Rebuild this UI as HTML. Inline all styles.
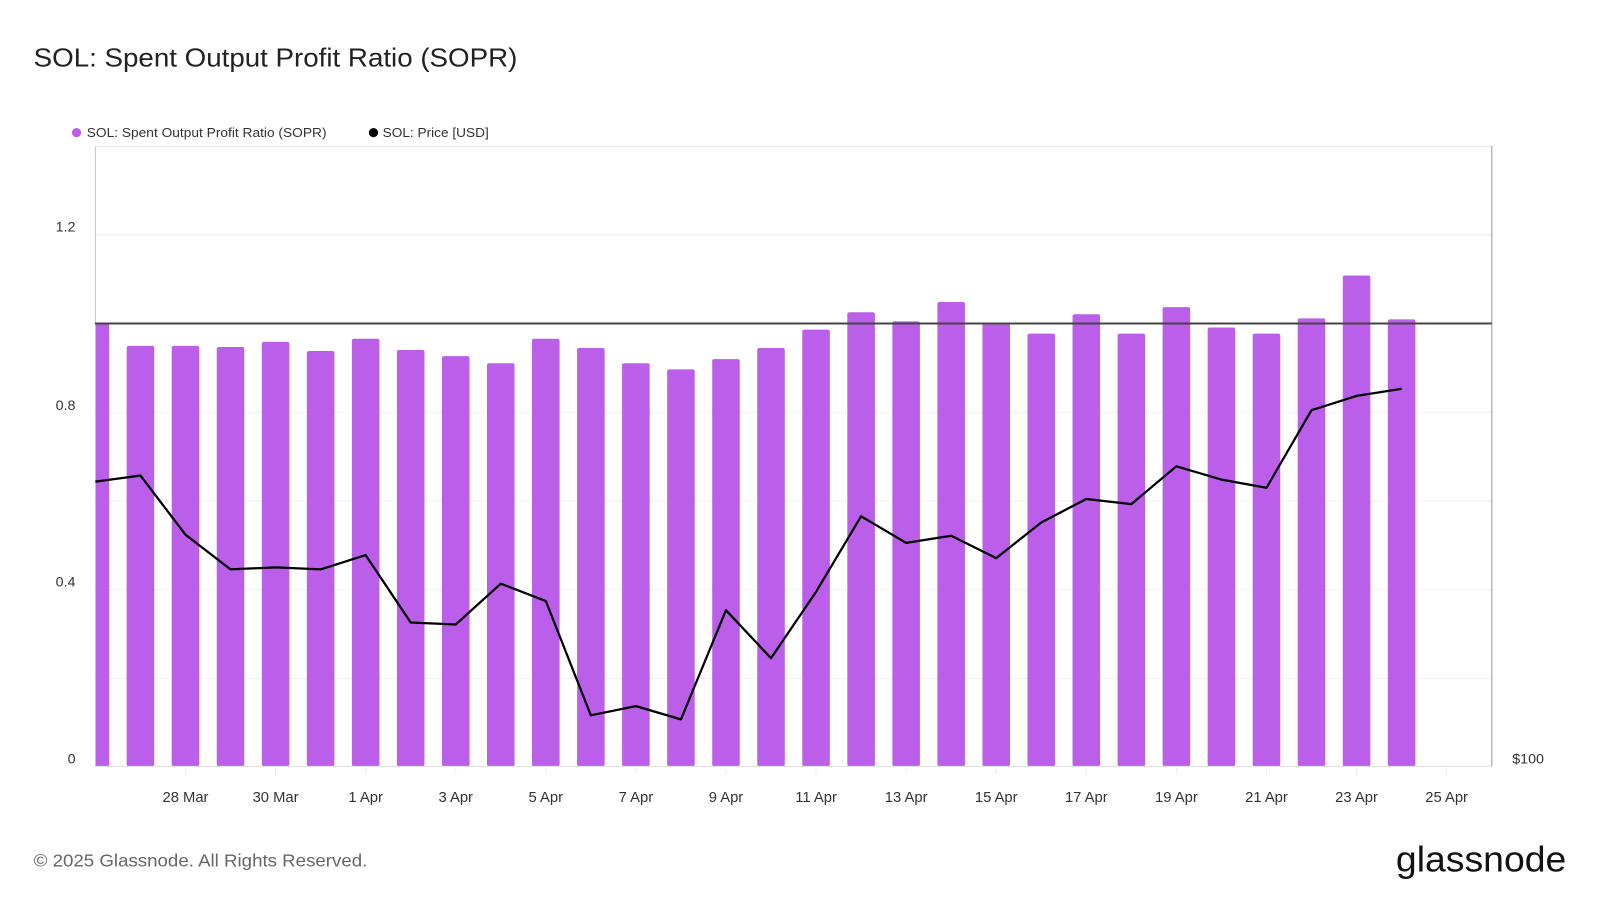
<!DOCTYPE html>
<html><head><meta charset="utf-8"><style>
html,body{margin:0;padding:0;background:#fff;}
svg{display:block;font-family:"Liberation Sans",sans-serif;}
</style></head><body>
<svg width="1600" height="900" viewBox="0 0 1568 882" xmlns="http://www.w3.org/2000/svg">
<rect width="1568" height="882" fill="#fff"/>
<text x="33" y="65" font-size="25" fill="#222" textLength="474" lengthAdjust="spacingAndGlyphs">SOL: Spent Output Profit Ratio (SOPR)</text>
<circle cx="75" cy="130" r="4.5" fill="#bb5fea"/>
<text x="85" y="134.5" font-size="12.5" fill="#333" textLength="235" lengthAdjust="spacingAndGlyphs">SOL: Spent Output Profit Ratio (SOPR)</text>
<circle cx="366" cy="130" r="4.5" fill="#000"/>
<text x="375" y="134.5" font-size="12.5" fill="#333" textLength="104" lengthAdjust="spacingAndGlyphs">SOL: Price [USD]</text>
<g stroke="#f2f2f2" stroke-width="1">
<line x1="93" x2="1462" y1="143.5" y2="143.5" stroke="#e8e8e8"/>
<line x1="93" x2="1462" y1="230" y2="230"/>
<line x1="93" x2="1462" y1="404" y2="404"/>
<line x1="93" x2="1462" y1="491" y2="491"/>
<line x1="93" x2="1462" y1="578" y2="578"/>
<line x1="93" x2="1462" y1="665" y2="665"/>
</g>
<g fill="#bb5fea">
<rect x="93.5" y="318" width="13.5" height="433"/>
<rect x="124.14" y="339" width="27" height="412" rx="2"/>
<rect x="168.28" y="339" width="27" height="412" rx="2"/>
<rect x="212.42" y="340" width="27" height="411" rx="2"/>
<rect x="256.56" y="335" width="27" height="416" rx="2"/>
<rect x="300.7" y="344" width="27" height="407" rx="2"/>
<rect x="344.84" y="332" width="27" height="419" rx="2"/>
<rect x="388.98" y="343" width="27" height="408" rx="2"/>
<rect x="433.12" y="349" width="27" height="402" rx="2"/>
<rect x="477.26" y="356" width="27" height="395" rx="2"/>
<rect x="521.4" y="332" width="27" height="419" rx="2"/>
<rect x="565.54" y="341" width="27" height="410" rx="2"/>
<rect x="609.68" y="356" width="27" height="395" rx="2"/>
<rect x="653.82" y="362" width="27" height="389" rx="2"/>
<rect x="697.96" y="352" width="27" height="399" rx="2"/>
<rect x="742.1" y="341" width="27" height="410" rx="2"/>
<rect x="786.24" y="323" width="27" height="428" rx="2"/>
<rect x="830.38" y="306" width="27" height="445" rx="2"/>
<rect x="874.52" y="315" width="27" height="436" rx="2"/>
<rect x="918.66" y="296" width="27" height="455" rx="2"/>
<rect x="962.8" y="317" width="27" height="434" rx="2"/>
<rect x="1006.94" y="327" width="27" height="424" rx="2"/>
<rect x="1051.08" y="308" width="27" height="443" rx="2"/>
<rect x="1095.22" y="327" width="27" height="424" rx="2"/>
<rect x="1139.36" y="301" width="27" height="450" rx="2"/>
<rect x="1183.5" y="321" width="27" height="430" rx="2"/>
<rect x="1227.64" y="327" width="27" height="424" rx="2"/>
<rect x="1271.78" y="312" width="27" height="439" rx="2"/>
<rect x="1315.92" y="270" width="27" height="481" rx="2"/>
<rect x="1360.06" y="313" width="27" height="438" rx="2"/>
</g>
<line x1="93" x2="1462" y1="751" y2="751" stroke="#ddd"/>
<line x1="93.5" x2="93.5" y1="143" y2="751" stroke="#dcb8f3"/>
<line x1="1462" x2="1462" y1="143" y2="751" stroke="#999"/>
<line x1="93" x2="1462" y1="317" y2="317" stroke="#444" stroke-width="2"/>
<polyline fill="none" stroke="#000" stroke-width="2.2" stroke-linejoin="round" points="93.5,472 137.64,466 181.78,524 225.92,558 270.06,556 314.2,558 358.34,544 402.48,610 446.62,612 490.76,572 534.9,589 579.04,701 623.18,692 667.32,705 711.46,598 755.6,645 799.74,580 843.88,506 888.02,532 932.16,525 976.3,547 1020.44,512 1064.58,489 1108.72,494 1152.86,457 1197,470 1241.14,478 1285.28,402 1329.42,388 1373.56,381"/>
<g font-size="14" fill="#333" text-anchor="end">
<text x="74" y="227">1.2</text>
<text x="74" y="402">0.8</text>
<text x="74" y="575">0.4</text>
<text x="74" y="748">0</text>
</g>
<text x="1482" y="748" font-size="14" fill="#333">$100</text>
<g stroke="#eee">
<line x1="181.78" x2="181.78" y1="751" y2="759"/><line x1="270.06" x2="270.06" y1="751" y2="759"/><line x1="358.34" x2="358.34" y1="751" y2="759"/><line x1="446.62" x2="446.62" y1="751" y2="759"/><line x1="534.9" x2="534.9" y1="751" y2="759"/><line x1="623.18" x2="623.18" y1="751" y2="759"/><line x1="711.46" x2="711.46" y1="751" y2="759"/><line x1="799.74" x2="799.74" y1="751" y2="759"/><line x1="888.02" x2="888.02" y1="751" y2="759"/><line x1="976.3" x2="976.3" y1="751" y2="759"/><line x1="1064.58" x2="1064.58" y1="751" y2="759"/><line x1="1152.86" x2="1152.86" y1="751" y2="759"/><line x1="1241.14" x2="1241.14" y1="751" y2="759"/><line x1="1329.42" x2="1329.42" y1="751" y2="759"/><line x1="1417.7" x2="1417.7" y1="751" y2="759"/>
</g>
<g font-size="14.5" fill="#333" text-anchor="middle">
<text x="181.78" y="786">28 Mar</text><text x="270.06" y="786">30 Mar</text><text x="358.34" y="786">1 Apr</text><text x="446.62" y="786">3 Apr</text><text x="534.9" y="786">5 Apr</text><text x="623.18" y="786">7 Apr</text><text x="711.46" y="786">9 Apr</text><text x="799.74" y="786">11 Apr</text><text x="888.02" y="786">13 Apr</text><text x="976.3" y="786">15 Apr</text><text x="1064.58" y="786">17 Apr</text><text x="1152.86" y="786">19 Apr</text><text x="1241.14" y="786">21 Apr</text><text x="1329.42" y="786">23 Apr</text><text x="1417.7" y="786">25 Apr</text>
</g>
<text x="33" y="849" font-size="17" fill="#666" textLength="327" lengthAdjust="spacingAndGlyphs">© 2025 Glassnode. All Rights Reserved.</text>
<text x="1368" y="854" font-size="35" fill="#111" textLength="167" lengthAdjust="spacingAndGlyphs">glassnode</text>
</svg>
</body></html>
